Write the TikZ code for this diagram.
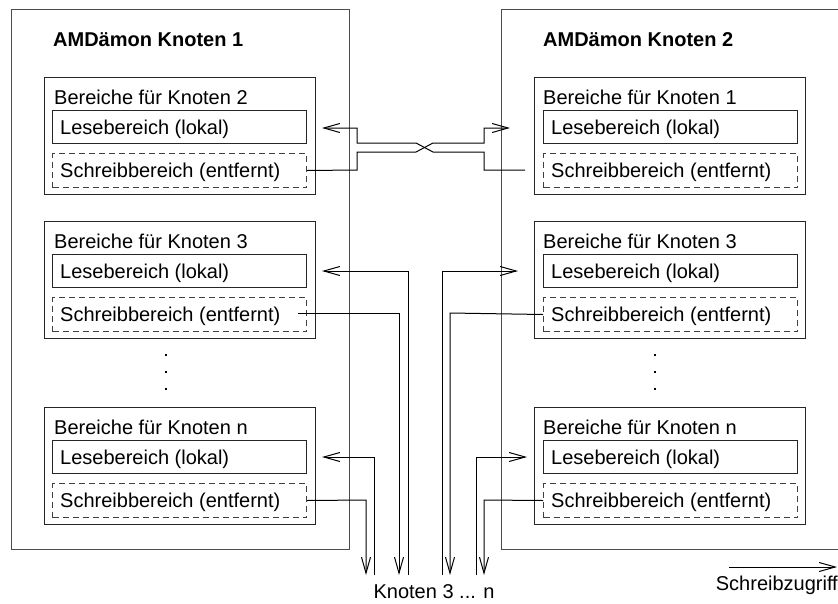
\documentclass[tikz,border=0pt]{standalone}
\usepackage{fontspec}
\setmainfont{Liberation Sans}
\usetikzlibrary{arrows.meta}
\begin{document}
\begin{tikzpicture}[x=1pt,y=-1pt,
  bigbox/.style={draw=black!70, line width=1pt, inner sep=0pt, anchor=north west},
  grpbox/.style={draw=black!85, line width=1pt, minimum width=271pt, minimum height=117pt, inner sep=0pt, anchor=north west},
  lesebox/.style={draw=black!85, line width=1pt, minimum width=254pt, minimum height=33pt, inner sep=0pt, anchor=north west},
  schreibbox/.style={draw=black!75, line width=1pt, dash pattern=on 6pt off 4pt, minimum width=254pt, minimum height=34pt, inner sep=0pt, anchor=north west},
  lbl/.style={font=\fontsize{20}{24}\selectfont, inner sep=0pt, anchor=base west},
  ttl/.style={font=\fontsize{20}{24}\selectfont\bfseries, inner sep=0pt, anchor=base west},
  conn/.style={draw=black, line width=1pt},
  tip/.style={-{Straight Barb[length=16pt,width=9pt,line width=1pt]}},
  dotmark/.style={fill=black, inner sep=0pt, minimum size=2.2pt}
]
\useasboundingbox (0,0) rectangle (838,603);
\clip (0,0) rectangle (838,603);

% big boxes
\node[bigbox, minimum width=338pt, minimum height=540pt] (node1) at (11,9) {};
\node[bigbox, minimum width=400pt, minimum height=540pt] (node2) at (501,9) {};
\node[ttl] (t1) at (53,46) {AMDämon Knoten 1};
\node[ttl] (t2) at (543,46) {AMDämon Knoten 2};

% left column
\node[grpbox] (lg1) at (44,77) {};
\node[lbl] (lg1t) at (54,104) {Bereiche für Knoten 2};
\node[lesebox] (ll1) at (52,110) {};
\node[lbl] (ll1t) at (60,134) {Lesebereich (lokal)};
\node[schreibbox] (ls1) at (52,153) {};
\node[lbl] (ls1t) at (60,177) {Schreibbereich (entfernt)};

\node[grpbox] (lg2) at (44,221) {};
\node[lbl] (lg2t) at (54,248) {Bereiche für Knoten 3};
\node[lesebox] (ll2) at (52,254) {};
\node[lbl] (ll2t) at (60,278) {Lesebereich (lokal)};
\node[schreibbox] (ls2) at (52,297) {};
\node[lbl] (ls2t) at (60,321) {Schreibbereich (entfernt)};

\node[grpbox] (lg3) at (44,407) {};
\node[lbl] (lg3t) at (54,434) {Bereiche für Knoten n};
\node[lesebox] (ll3) at (52,440) {};
\node[lbl] (ll3t) at (60,464) {Lesebereich (lokal)};
\node[schreibbox] (ls3) at (52,483) {};
\node[lbl] (ls3t) at (60,507) {Schreibbereich (entfernt)};

% right column
\node[grpbox] (rg1) at (534,77) {};
\node[lbl] (rg1t) at (543,104) {Bereiche für Knoten 1};
\node[lesebox] (rl1) at (543,110) {};
\node[lbl] (rl1t) at (551,134) {Lesebereich (lokal)};
\node[schreibbox] (rs1) at (543,153) {};
\node[lbl] (rs1t) at (551,177) {Schreibbereich (entfernt)};

\node[grpbox] (rg2) at (534,221) {};
\node[lbl] (rg2t) at (543,248) {Bereiche für Knoten 3};
\node[lesebox] (rl2) at (543,254) {};
\node[lbl] (rl2t) at (551,278) {Lesebereich (lokal)};
\node[schreibbox] (rs2) at (543,297) {};
\node[lbl] (rs2t) at (551,321) {Schreibbereich (entfernt)};

\node[grpbox] (rg3) at (534,407) {};
\node[lbl] (rg3t) at (543,434) {Bereiche für Knoten n};
\node[lesebox] (rl3) at (543,440) {};
\node[lbl] (rl3t) at (551,464) {Lesebereich (lokal)};
\node[schreibbox] (rs3) at (543,483) {};
\node[lbl] (rs3t) at (551,507) {Schreibbereich (entfernt)};

% dots
\foreach \yy [count=\i] in {355,372,389} {
  \node[dotmark] (ld\i) at (166,\yy) {};
  \node[dotmark] (rd\i) at (655,\yy) {};
}

% endpoints
\coordinate (l1tip) at (322,128);
\coordinate (r1tip) at (510,128);
\coordinate (r1s) at (525,170);
\coordinate (l2tip) at (322,271);
\coordinate (r2tip) at (518,271);
\coordinate (l2s) at (298,313);
\coordinate (l3tip) at (322,457);
\coordinate (r3tip) at (527,457);
\coordinate (bl3s) at (366,575);
\coordinate (bl3l) at (374,575);
\coordinate (bl2s) at (399,575);
\coordinate (bl2l) at (408,575);
\coordinate (br2l) at (442,575);
\coordinate (br2s) at (450,575);
\coordinate (br3l) at (476,575);
\coordinate (br3s) at (484,575);

% group 1 crossing connectors
\draw[conn, tip] (r1s) -- (484,170) -- (484,152) -- (433,152) -- (416,143) -- (357,143) -- (357,128) -- (l1tip);
\draw[conn, tip] (ls1.east) -- (357,170) -- (357,152) -- (416,152) -- (433,143) -- (484,143) -- (484,128) -- (r1tip);

% group 2
\draw[conn, tip] (bl2l) -- (408,271) -- (l2tip);
\draw[conn, tip] (l2s) -- (399,313) -- (bl2s);
\draw[conn, tip] (br2l) -- (442,271) -- (r2tip);
\draw[conn, tip] (rs2.west) -- (450,313) -- (br2s);

% group 3
\draw[conn, tip] (bl3l) -- (374,457) -- (l3tip);
\draw[conn, tip] (ls3.east) -- (366,500) -- (bl3s);
\draw[conn, tip] (br3l) -- (476,457) -- (r3tip);
\draw[conn, tip] (rs3.west) -- (484,500) -- (br3s);

\node[lbl, anchor=base] (kn) at (434,598) {Knoten 3 ... n};

% legend
\coordinate (lga) at (729,567);
\coordinate (lgb) at (837,567);
\draw[conn, tip] (lga) -- (lgb);
\node[lbl, anchor=base east] (lgt) at (838,590) {Schreibzugriff};
\end{tikzpicture}
\end{document}
